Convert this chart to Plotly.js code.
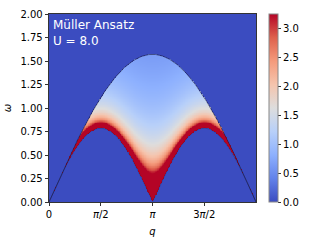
<!DOCTYPE html>
<html><head><meta charset="utf-8">
<script src="https://cdn.plot.ly/plotly-3.0.1.min.js"></script>
<style>html,body{margin:0;padding:0;background:#fff;}#c{width:320px;height:240px;}</style>
</head><body><div id="c"></div>
<script>
// Parameters
var U = 8.0;
var J = 0.5;             // exchange, upper edge max = pi*J ≈ 1.57
var amplitude = 1.0;     // Müller ansatz prefactor
var zMax = 3.26;         // top of colour bar
var qRange = [0, 2*Math.PI];
var wRange = [0, 2.0];
var xTickVals = [0, Math.PI/2, Math.PI, 3*Math.PI/2];
var xTickText = ['0', '<i>π</i>/2', '<i>π</i>', '3<i>π</i>/2'];
var yTickVals = [0, 0.25, 0.5, 0.75, 1.0, 1.25, 1.5, 1.75, 2.0];
var cbTickVals = [0, 0.5, 1.0, 1.5, 2.0, 2.5, 3.0];
var nq = 320, nw = 260;

// Müller ansatz spectral function on a grid
var qs = [], ws = [], z = [];
for (var i = 0; i < nq; i++) qs.push(qRange[0] + (qRange[1]-qRange[0]) * i/(nq-1));
for (var j = 0; j < nw; j++) ws.push(wRange[0] + (wRange[1]-wRange[0]) * j/(nw-1));
function wL(q){ return Math.PI*J/2*Math.abs(Math.sin(q)); }
function wU(q){ return Math.PI*J*Math.abs(Math.sin(q/2)); }
for (var j = 0; j < nw; j++) {
  var row = [];
  for (var i = 0; i < nq; i++) {
    var q = qs[i], w = ws[j], lo = wL(q), hi = wU(q);
    if (w > lo && w < hi) {
      var v = amplitude / Math.sqrt(w*w - lo*lo);
      row.push(Math.min(v, zMax));
    } else row.push(0);
  }
  z.push(row);
}
var lineQ = [], lineLo = [], lineHi = [];
for (var i = 0; i < 400; i++) {
  var q = qRange[1]*i/399;
  lineQ.push(q); lineLo.push(wL(q)); lineHi.push(wU(q));
}

var coolwarm = [
  [0.0, 'rgb(59,76,192)'],
  [0.125, 'rgb(98,130,234)'],
  [0.25, 'rgb(141,176,254)'],
  [0.375, 'rgb(184,208,249)'],
  [0.5, 'rgb(221,221,221)'],
  [0.625, 'rgb(245,196,173)'],
  [0.75, 'rgb(244,154,123)'],
  [0.875, 'rgb(222,96,76)'],
  [1.0, 'rgb(180,4,38)']
];

var data = [
  {type:'heatmap', x: qs, y: ws, z: z, zmin: 0, zmax: zMax, colorscale: coolwarm,
   hoverinfo:'skip',
   colorbar: {x: 1.063, xanchor:'left', y: 0.5, yanchor:'middle', len: 1, lenmode:'fraction',
     xpad: 0, ypad: 0,
     thickness: 9, outlinewidth: 1, outlinecolor:'#888', tickvals: cbTickVals,
     ticktext: cbTickVals.map(function(v){return v.toFixed(1);}),
     ticks:'outside', ticklen: 3, tickcolor:'#000', tickwidth: 0.8,
     tickfont:{family:'DejaVu Sans', size:10, color:'#000'}}},
  {type:'scatter', mode:'lines', x: lineQ, y: lineHi, line:{color:'rgba(25,25,60,0.85)', width:0.7}, hoverinfo:'skip', showlegend:false},
  {type:'scatter', mode:'lines', x: lineQ, y: lineLo, line:{color:'rgba(25,25,60,0.5)', width:0.5}, hoverinfo:'skip', showlegend:false}
];

var axFont = {family:'DejaVu Sans', size:10, color:'#000'};
var layout = {
  width: 320, height: 240,
  margin: {l: 49, r: 64, t: 14, b: 38, pad: 0, autoexpand: false},
  paper_bgcolor:'#fff', plot_bgcolor:'rgb(59,76,192)',
  showlegend: false,
  xaxis: {range: qRange, tickvals: xTickVals, ticktext: xTickText, tickfont: axFont,
    ticks:'outside', ticklen: 3.5, tickwidth: 0.8, tickcolor:'#000',
    showline: true, linecolor:'#000', linewidth: 0.8, mirror: true, showgrid: false, zeroline: false,
    title: {text:'<i>q</i>', font: {family:'DejaVu Sans', size:10, color:'#000'}, standoff: 8}},
  yaxis: {range: wRange, tickvals: yTickVals, ticktext: yTickVals.map(function(v){return v.toFixed(2);}), tickfont: axFont,
    ticks:'outside', ticklen: 3.5, tickwidth: 0.8, tickcolor:'#000',
    showline: true, linecolor:'#000', linewidth: 0.8, mirror: true, showgrid: false, zeroline: false,
    title: {text:'<i>ω</i>', font: {family:'DejaVu Sans', size:10, color:'#000'}, standoff: 6}},
  annotations: [
    {xref:'paper', yref:'paper', x: 0.01, y: 0.99, xanchor:'left', yanchor:'top', showarrow:false,
     align:'left', text:'Müller Ansatz<br>U = 8.0', font:{family:'DejaVu Sans', size:12, color:'#fff'}}
  ]
};
Plotly.newPlot('c', data, layout, {staticPlot:true, displayModeBar:false});
</script></body></html>
